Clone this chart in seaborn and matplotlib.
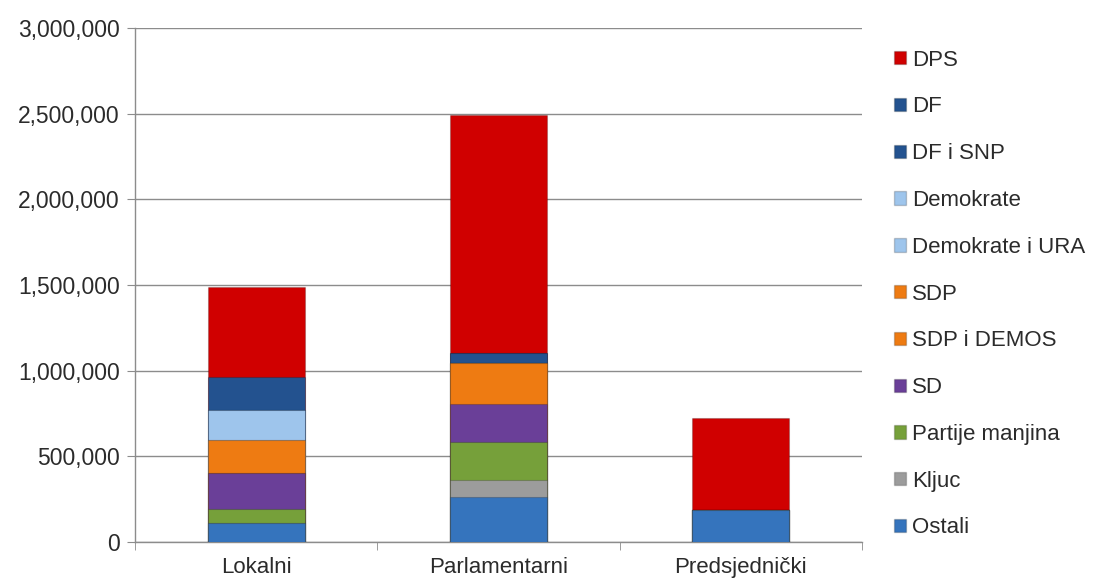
import pandas as pd
import matplotlib.pyplot as plt
import seaborn as sns
from matplotlib.patches import Patch
from matplotlib.ticker import FuncFormatter, FixedLocator

# election types (x categories)
izbori = ['Lokalni', 'Parlamentarni', 'Predsjednički']

# votes per party, stacked from the bottom up
ostali = [108000, 263000, 185000]
kljuc = [0, 98000, 0]
partije_manjina = [81000, 223000, 0]
sd = [211000, 221000, 0]
sdp_i_demos = [0, 237000, 0]
sdp = [194000, 0, 0]
demokrate_i_ura = [0, 0, 0]
demokrate = [176000, 0, 0]
df_i_snp = [0, 59000, 0]
df = [194000, 0, 0]
dps = [526000, 1392000, 536000]

series = [
    ('Ostali', ostali, '#3574BD'),
    ('Kljuc', kljuc, '#9C9C9C'),
    ('Partije manjina', partije_manjina, '#76A03A'),
    ('SD', sd, '#6A3F98'),
    ('SDP i DEMOS', sdp_i_demos, '#EE7B12'),
    ('SDP', sdp, '#EE7B12'),
    ('Demokrate i URA', demokrate_i_ura, '#9EC5EC'),
    ('Demokrate', demokrate, '#9EC5EC'),
    ('DF i SNP', df_i_snp, '#23528F'),
    ('DF', df, '#23528F'),
    ('DPS', dps, '#D00000'),
]

# cumulative heights so the stack can be drawn top-down with seaborn
df_votes = pd.DataFrame({name: vals for name, vals, _ in series}, index=izbori)
cum = df_votes.cumsum(axis=1)

sns.set_style('white')
plt.rcParams['font.family'] = ['Liberation Sans', 'DejaVu Sans']

fig = plt.figure(figsize=(10.94, 5.82), dpi=100)
ax = fig.add_axes([0.1234, 0.0692, 0.6646, 0.8822])

text_color = '#2b2b2b'
for name, _, color in reversed(series):
    plot_df = pd.DataFrame({'Izbori': izbori, 'Glasovi': cum[name].values})
    sns.barplot(data=plot_df, x='Izbori', y='Glasovi', color=color,
                width=0.4, edgecolor='#00000030', linewidth=0.8,
                saturation=1, ax=ax, zorder=3)

ax.set_ylim(0, 3000000)
ax.set_xlim(-0.5, 2.5)
ax.set_yticks(range(0, 3000001, 500000))
ax.yaxis.set_major_formatter(FuncFormatter(lambda v, p: f'{int(v):,}'))
ax.grid(axis='y', color='#8c8c8c', linewidth=1, zorder=0)
ax.set_axisbelow(True)

ax.set_xlabel('')
ax.set_ylabel('')
for side in ['top', 'right']:
    ax.spines[side].set_visible(False)
for side in ['left', 'bottom']:
    ax.spines[side].set_color('#8c8c8c')
    ax.spines[side].set_linewidth(1)

ax.tick_params(axis='y', which='major', length=6, color='#8c8c8c',
               labelsize=16.5, labelcolor=text_color, pad=5, left=True)
ax.tick_params(axis='x', which='major', length=0, labelsize=16,
               labelcolor=text_color, pad=11)
ax.xaxis.set_minor_locator(FixedLocator([-0.5, 0.5, 1.5, 2.5]))
ax.tick_params(axis='x', which='minor', length=6, color='#8c8c8c', bottom=True)

handles = [Patch(facecolor=color, edgecolor='#00000030', label=name)
           for name, _, color in reversed(series)]
fig.legend(handles=handles, loc='upper left', bbox_to_anchor=(0.809, 0.93),
           frameon=False, fontsize=16, labelcolor=text_color,
           handlelength=0.55, handleheight=0.55, handletextpad=0.25,
           labelspacing=1.16, borderaxespad=0)

fig.savefig('out.png', dpi=100)
